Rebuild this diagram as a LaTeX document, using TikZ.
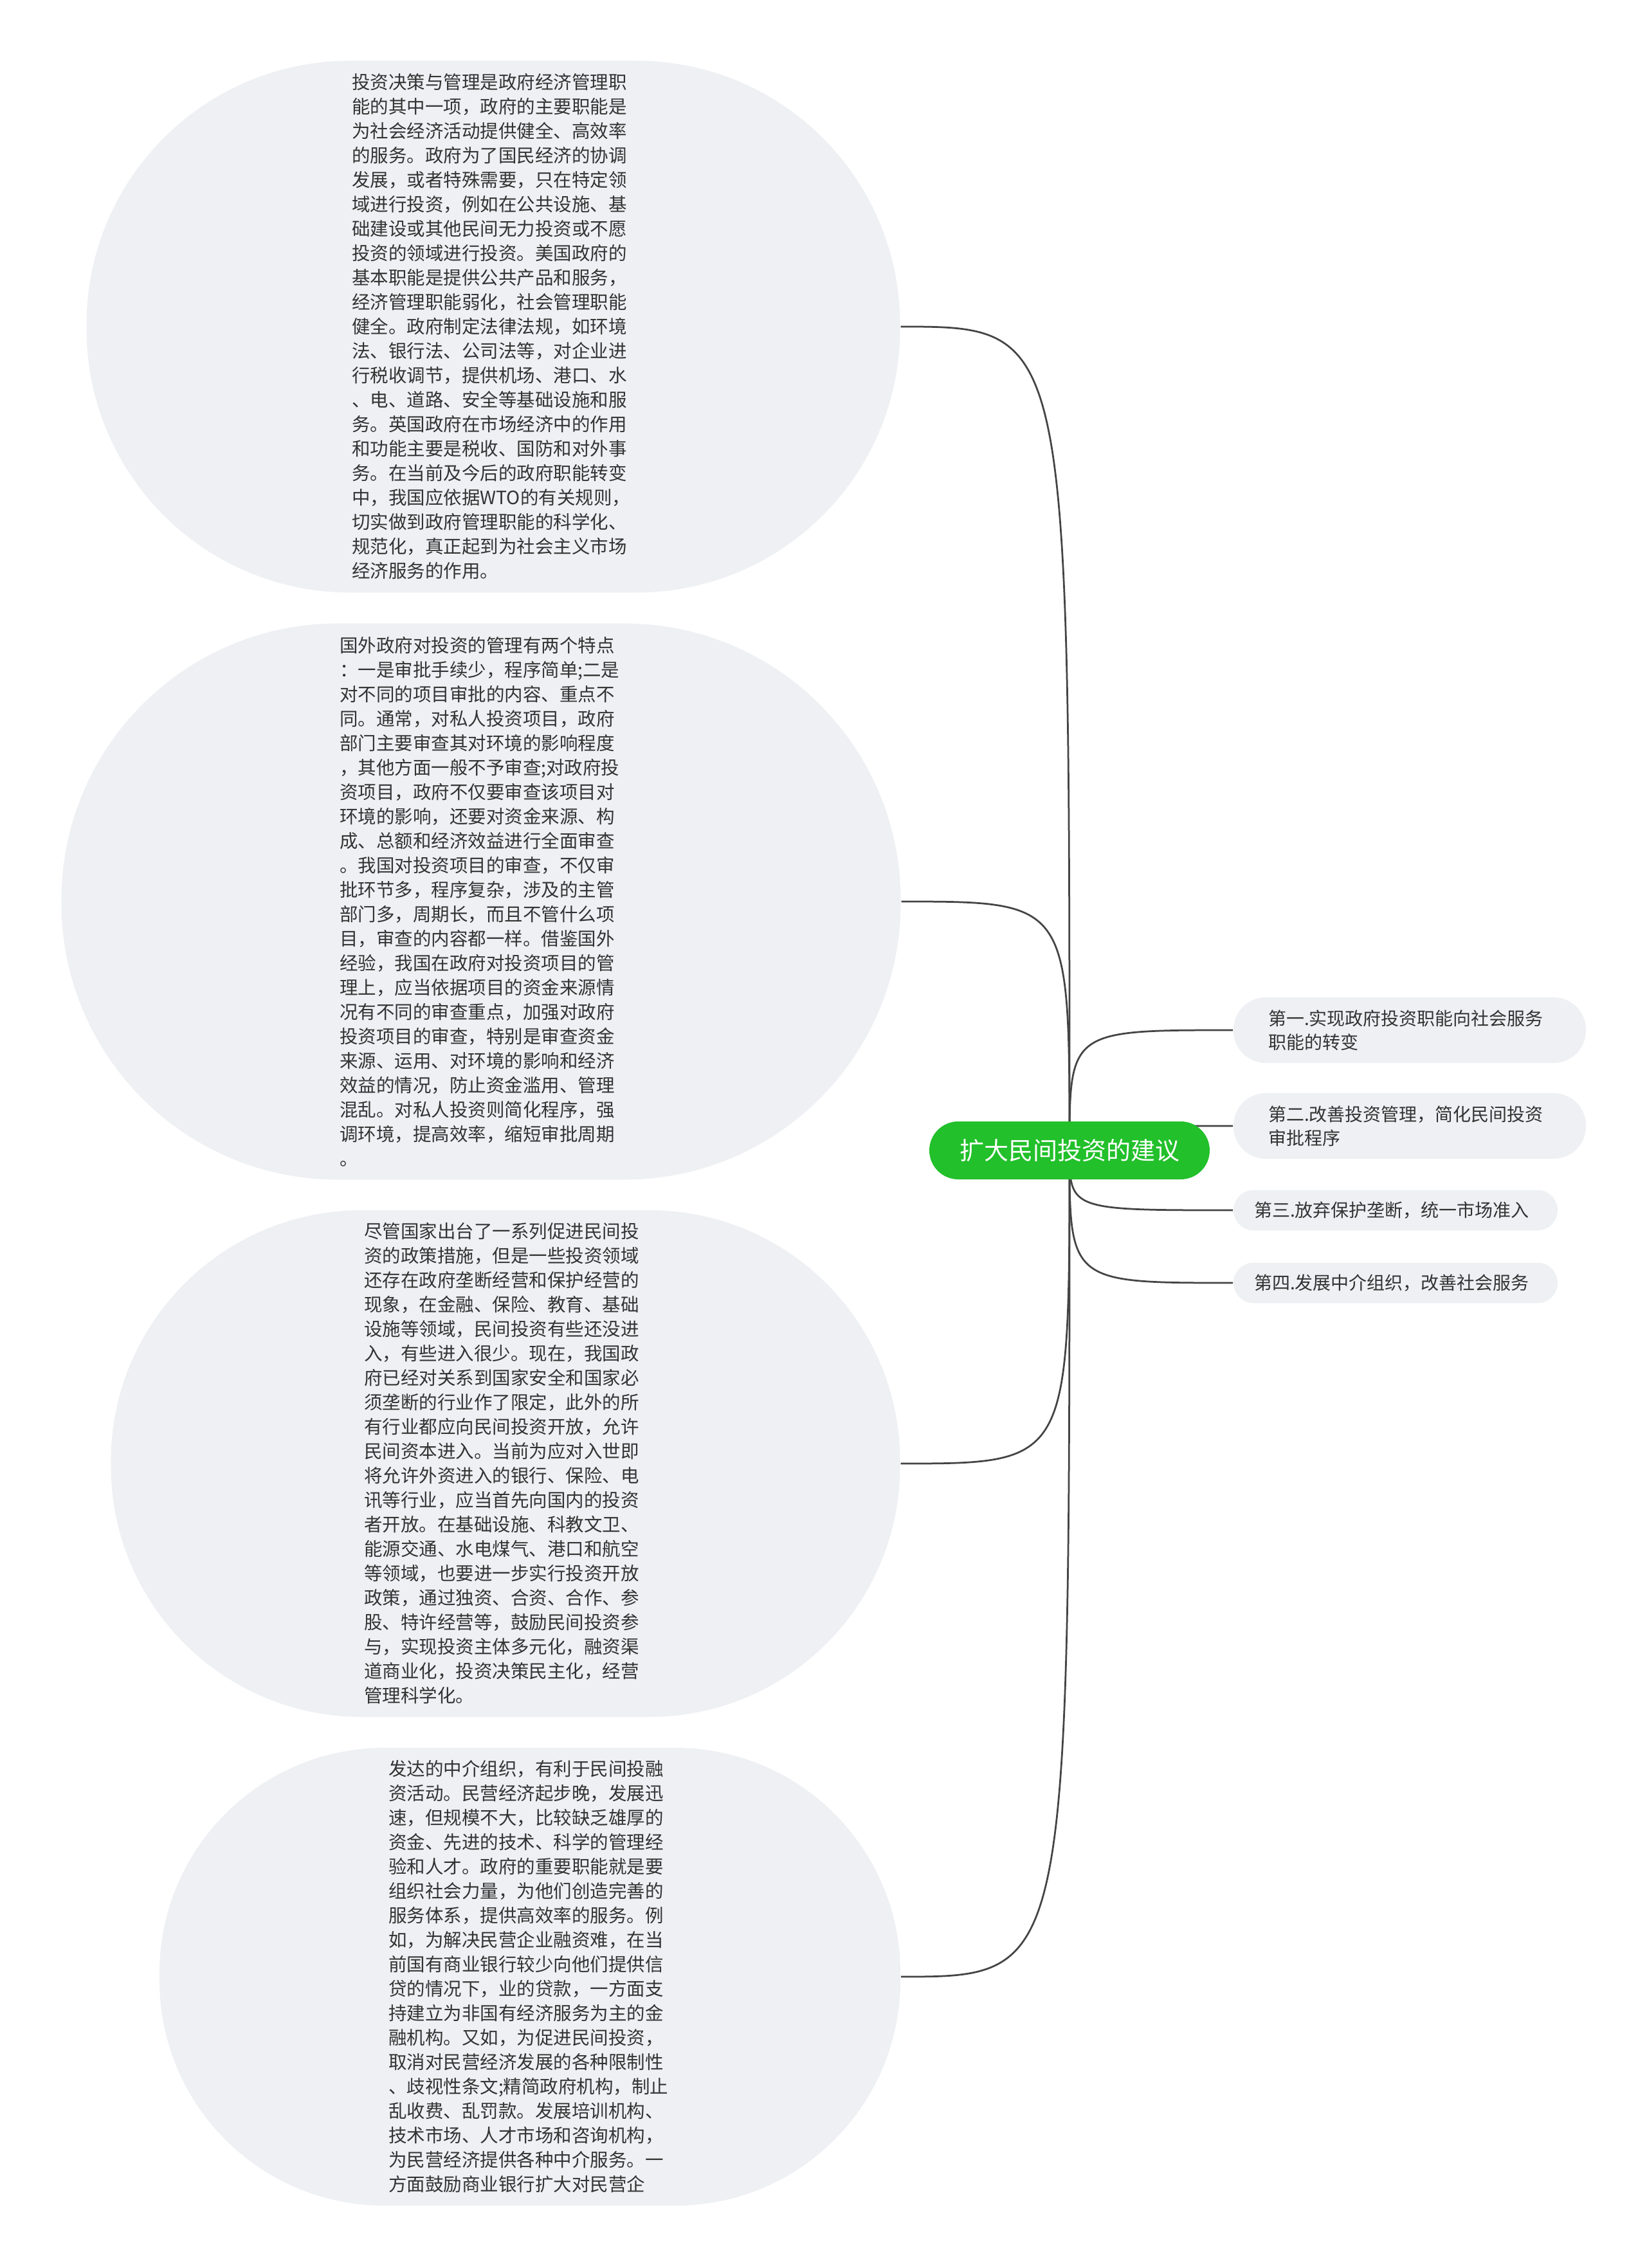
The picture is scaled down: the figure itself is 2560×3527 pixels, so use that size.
\documentclass[tikz,border=0pt]{standalone}
\usepackage{fontspec}
\newfontfamily\cjk{Noto Sans CJK SC}
\usetikzlibrary{backgrounds}
\definecolor{bubblegray}{HTML}{EEF0F3}
\definecolor{inkgray}{HTML}{333333}
\definecolor{linkgray}{HTML}{444444}
\definecolor{rootgreen}{HTML}{22C02B}

\begin{document}
\begin{tikzpicture}[x=0.2pt,y=-0.2pt,
  bubble/.style={fill=bubblegray, text=inkgray, align=left, text width=88pt, inner sep=0pt,
    font=\cjk\fontsize{5.7pt}{7.6pt}\selectfont},
  leaf/.style={fill=bubblegray, text=inkgray, anchor=west, align=left,
    text width=88pt, inner ysep=0pt, font=\cjk\fontsize{5.6pt}{7.4pt}\selectfont},
  hub/.style={fill=rootgreen, text=white, inner sep=0pt, minimum width=87.2pt,
    minimum height=18pt, rounded corners=9pt, font=\cjk\fontsize{7.6pt}{9pt}\selectfont},
  link/.style={draw=linkgray, line width=0.55pt}]
\useasboundingbox (0,0) rectangle (2560,3527);
% centre
\node[hub] (root) at (1663,1789) {扩大民间投资的建议};
% left bubbles
\node[bubble, minimum width=253pt, minimum height=165.4pt, rounded corners=82pt] (e1) at (767,508)
  {投资决策与管理是政府经济管理职\\能的其中一项，政府的主要职能是\\为社会经济活动提供健全、高效率\\的服务。政府为了国民经济的协调\\发展，或者特殊需要，只在特定领\\域进行投资，例如在公共设施、基\\础建设或其他民间无力投资或不愿\\投资的领域进行投资。美国政府的\\基本职能是提供公共产品和服务，\\经济管理职能弱化，社会管理职能\\健全。政府制定法律法规，如环境\\法、银行法、公司法等，对企业进\\行税收调节，提供机场、港口、水\\、电、道路、安全等基础设施和服\\务。英国政府在市场经济中的作用\\和功能主要是税收、国防和对外事\\务。在当前及今后的政府职能转变\\中，我国应依据WTO的有关规则，\\切实做到政府管理职能的科学化、\\规范化，真正起到为社会主义市场\\经济服务的作用。};
\node[bubble, minimum width=261pt, minimum height=173pt, rounded corners=86pt] (e2) at (748,1402)
  {国外政府对投资的管理有两个特点\\：一是审批手续少，程序简单;二是\\对不同的项目审批的内容、重点不\\同。通常，对私人投资项目，政府\\部门主要审查其对环境的影响程度\\，其他方面一般不予审查;对政府投\\资项目，政府不仅要审查该项目对\\环境的影响，还要对资金来源、构\\成、总额和经济效益进行全面审查\\。我国对投资项目的审查，不仅审\\批环节多，程序复杂，涉及的主管\\部门多，周期长，而且不管什么项\\目，审查的内容都一样。借鉴国外\\经验，我国在政府对投资项目的管\\理上，应当依据项目的资金来源情\\况有不同的审查重点，加强对政府\\投资项目的审查，特别是审查资金\\来源、运用、对环境的影响和经济\\效益的情况，防止资金滥用、管理\\混乱。对私人投资则简化程序，强\\调环境，提高效率，缩短审批周期\\。};
\node[bubble, minimum width=245.4pt, minimum height=157.6pt, rounded corners=78pt] (e3) at (786,2276)
  {尽管国家出台了一系列促进民间投\\资的政策措施，但是一些投资领域\\还存在政府垄断经营和保护经营的\\现象，在金融、保险、教育、基础\\设施等领域，民间投资有些还没进\\入，有些进入很少。现在，我国政\\府已经对关系到国家安全和国家必\\须垄断的行业作了限定，此外的所\\有行业都应向民间投资开放，允许\\民间资本进入。当前为应对入世即\\将允许外资进入的银行、保险、电\\讯等行业，应当首先向国内的投资\\者开放。在基础设施、科教文卫、\\能源交通、水电煤气、港口和航空\\等领域，也要进一步实行投资开放\\政策，通过独资、合资、合作、参\\股、特许经营等，鼓励民间投资参\\与，实现投资主体多元化，融资渠\\道商业化，投资决策民主化，经营\\管理科学化。};
\node[bubble, minimum width=230.4pt, minimum height=142.4pt, rounded corners=70pt] (e4) at (824,3074)
  {发达的中介组织，有利于民间投融\\资活动。民营经济起步晚，发展迅\\速，但规模不大，比较缺乏雄厚的\\资金、先进的技术、科学的管理经\\验和人才。政府的重要职能就是要\\组织社会力量，为他们创造完善的\\服务体系，提供高效率的服务。例\\如，为解决民营企业融资难，在当\\前国有商业银行较少向他们提供信\\贷的情况下，业的贷款，一方面支\\持建立为非国有经济服务为主的金\\融机构。又如，为促进民间投资，\\取消对民营经济发展的各种限制性\\、歧视性条文;精简政府机构，制止\\乱收费、乱罚款。发展培训机构、\\技术市场、人才市场和咨询机构，\\为民营经济提供各种中介服务。一\\方面鼓励商业银行扩大对民营企};
% right leaves
\node[leaf, inner xsep=10.8pt, minimum height=20.4pt, rounded corners=10pt] (l1) at (1917,1602)
  {第一.实现政府投资职能向社会服务\\职能的转变};
\node[leaf, inner xsep=10.8pt, minimum height=20.4pt, rounded corners=10pt] (l2) at (1917,1751)
  {第二.改善投资管理，简化民间投资\\审批程序};
\node[leaf, inner xsep=6.4pt, minimum height=12.6pt, rounded corners=6.3pt] (l3) at (1917,1882)
  {第三.放弃保护垄断，统一市场准入};
\node[leaf, inner xsep=6.4pt, minimum height=12.6pt, rounded corners=6.3pt] (l4) at (1917,1995)
  {第四.发展中介组织，改善社会服务};
% connectors
\begin{scope}[on background layer]
\draw[link] (root.center) .. controls (root.center |- e1.east) .. (e1.east);
\draw[link] (root.center) .. controls (root.center |- e2.east) .. (e2.east);
\draw[link] (root.center) .. controls (root.center |- e3.east) .. (e3.east);
\draw[link] (root.center) .. controls (root.center |- e4.east) .. (e4.east);
\draw[link] (root.center) .. controls (root.center |- l1.west) .. (l1.west);
\draw[link] (root.center) .. controls (root.center |- l2.west) .. (l2.west);
\draw[link] (root.center) .. controls (root.center |- l3.west) .. (l3.west);
\draw[link] (root.center) .. controls (root.center |- l4.west) .. (l4.west);
\end{scope}
\end{tikzpicture}
\end{document}
